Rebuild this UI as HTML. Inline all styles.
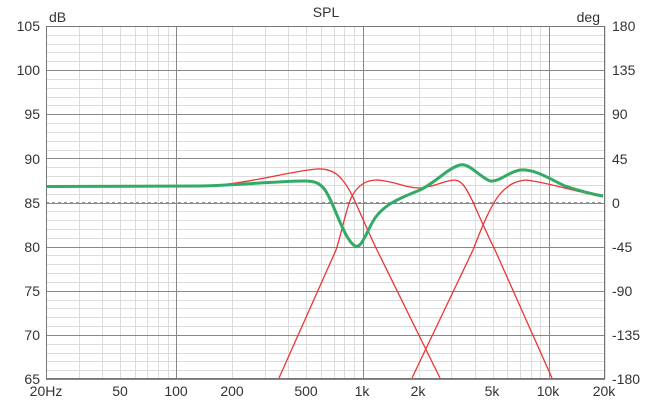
<!DOCTYPE html>
<html><head><meta charset="utf-8"><style>
html,body{margin:0;padding:0;background:#fff;width:651px;height:400px;overflow:hidden}
text{font-family:"Liberation Sans",sans-serif;fill:#333}
</style></head><body>
<svg width="651" height="400" xmlns="http://www.w3.org/2000/svg">
<g id="minor" stroke="#dcdcdc" stroke-width="1"></g>
<g id="major" stroke="#888" stroke-width="1"></g>
<line x1="46" y1="202.5" x2="605" y2="202.5" stroke="#999" stroke-dasharray="3,3"/>
<rect x="46.5" y="26.5" width="558" height="352" fill="none" stroke="#777"/>
<g font-size="14">
<text x="40" y="31" text-anchor="end">105</text>
<text x="40" y="75" text-anchor="end">100</text>
<text x="40" y="119" text-anchor="end">95</text>
<text x="40" y="164" text-anchor="end">90</text>
<text x="40" y="208" text-anchor="end">85</text>
<text x="40" y="252" text-anchor="end">80</text>
<text x="40" y="296" text-anchor="end">75</text>
<text x="40" y="340" text-anchor="end">70</text>
<text x="40" y="384" text-anchor="end">65</text>
<text x="612" y="31">180</text>
<text x="612" y="75">135</text>
<text x="612" y="119">90</text>
<text x="612" y="164">45</text>
<text x="612" y="208">0</text>
<text x="612" y="252">-45</text>
<text x="612" y="296">-90</text>
<text x="612" y="340">-135</text>
<text x="612" y="384">-180</text>
<text x="46" y="396" text-anchor="middle">20Hz</text>
<text x="120" y="396" text-anchor="middle">50</text>
<text x="176" y="396" text-anchor="middle">100</text>
<text x="232" y="396" text-anchor="middle">200</text>
<text x="306" y="396" text-anchor="middle">500</text>
<text x="362" y="396" text-anchor="middle">1k</text>
<text x="418" y="396" text-anchor="middle">2k</text>
<text x="492" y="396" text-anchor="middle">5k</text>
<text x="548" y="396" text-anchor="middle">10k</text>
<text x="604" y="396" text-anchor="middle">20k</text>
<text x="49" y="22">dB</text>
<text x="326" y="17" text-anchor="middle">SPL</text>
<text x="600" y="22" text-anchor="end">deg</text>
</g>
<g fill="none" stroke="#ee3333" stroke-width="1.3">
<path d="M46,187 L200,186.5 C250,184 290,171 317,169 C335,168 343,178 352,195 C360,212 370,236 377,250 L440,378"/>
<path d="M279,378 L336,250 C342,232 346,208 352,196 C359,184 367,180 377,180 C395,181 405,188 420,188 C435,187 445,180 455,180 C463,181 467,190 473,202 C480,218 488,236 495,250 L552,378"/>
<path d="M412,378 L473,250 C480,232 490,206 500,194 C508,185 515,181 526,180 C545,182 570,190 603,197"/>
</g>
<path fill="none" stroke="#33aa66" stroke-width="3" d="M46,186.5 L200,186 C240,185 280,181 305,181 C315,181 322,183 328,195 C336,210 345,240 355,246 C362,249 366,232 375,218 C385,204 400,198 420,190 C435,183 448,168 460,165 C470,163 478,176 490,181 C500,182 508,172 520,170 C535,169 548,178 565,186 C580,191 592,194 603,196"/>
<script>
var mn=document.getElementById('minor'),mj=document.getElementById('major'),ns='http://www.w3.org/2000/svg';
function ln(g,x1,y1,x2,y2){var l=document.createElementNS(ns,'line');l.setAttribute('x1',x1);l.setAttribute('y1',y1);l.setAttribute('x2',x2);l.setAttribute('y2',y2);g.appendChild(l);}
function X(f){return 46+Math.log10(f/20)*186.3;}
for(var d=10;d<=10000;d*=10){for(var k=1;k<10;k++){var f=d*k;if(f<20||f>20000)continue;var x=Math.round(X(f))+0.5;ln(k==1?mj:mn,x,26,x,379);}}
for(var db=65;db<=105;db++){var y=Math.round(26+(105-db)*8.825)+0.5;ln(db%5==0?mj:mn,46,y,605,y);}
</script>
</svg>
</body></html>
